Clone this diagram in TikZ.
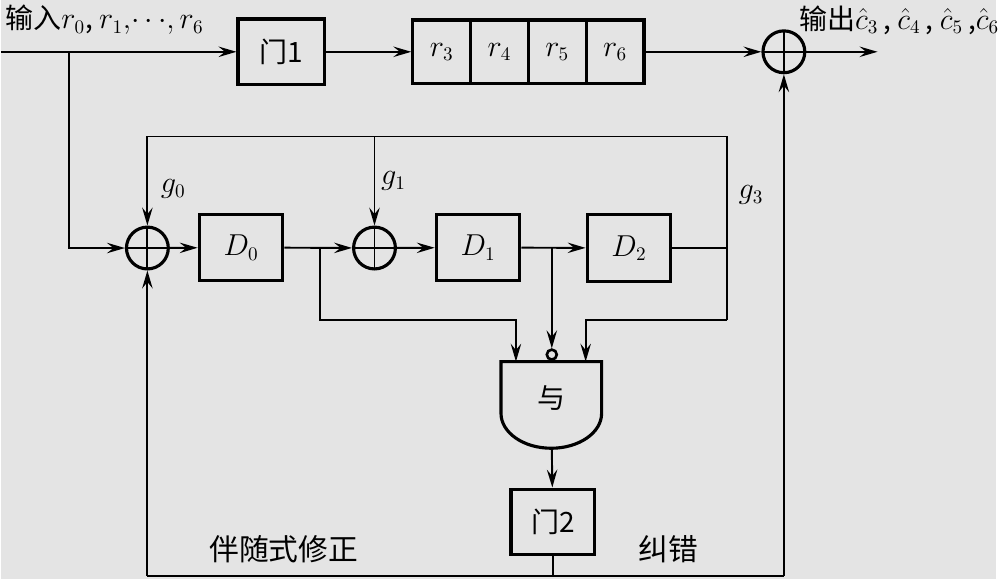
\documentclass[tikz,border=0pt]{standalone}
\usepackage{fontspec}
\newfontfamily\cjk{Noto Sans CJK SC}
\usepackage{xcolor}
\usepackage{tikz}
\usetikzlibrary{arrows.meta}
\definecolor{bg}{HTML}{E4E4E4}

\begin{document}
\begin{tikzpicture}[x=0.02cm,y=-0.02cm,font=\fontsize{16}{19}\selectfont,
  box/.style={draw,line width=1.8pt,minimum width=1.68cm,minimum height=1.32cm,inner sep=0pt},
  cell/.style={draw,line width=1.8pt,minimum width=1.16cm,minimum height=1.28cm,inner sep=0pt},
  xor/.style={circle,draw,line width=1.8pt,minimum size=0.84cm,inner sep=0pt,
    path picture={\draw[line width=1.1pt] (path picture bounding box.north) -- (path picture bounding box.south)
      (path picture bounding box.west) -- (path picture bounding box.east);}},
  wire/.style={line width=1.1pt},
  arr/.style={wire,-{Stealth[length=3.6mm,width=2.1mm,inset=1.3mm]}}]
\fill[bg] (0,0) rectangle (999,581);
% upper row
\node[box,minimum width=1.74cm] (gate1) at (281.5,52) {\cjk 门1};
\foreach \i/\x in {3/442.5,4/500.5,5/558.5,6/616.5}
  \node[cell] (r\i) at (\x,52) {$r_\i$};
\node[xor] (xorOut) at (786,52) {};
\node[anchor=west,inner sep=0pt] (inlab) at (4,20) {\cjk 输入$r_0$, $r_1,\!\cdots\!,r_6$};
\node[anchor=west,inner sep=0pt] (outlab) at (801,20)
  {\cjk 输出$\hat{c}_3\,$, $\hat{c}_4\,$, $\hat{c}_5\,$,$\hat{c}_6$};
\coordinate (in) at (0,52);
\coordinate (br0) at (68,52);
\coordinate (out) at (880,52);
% syndrome register
\node[xor] (xor0) at (147,249) {};
\node[box,minimum height=1.34cm] (D0) at (241,248.5) {$D_0$};
\node[xor] (xor1) at (375,249) {};
\node[box,minimum height=1.34cm] (D1) at (479,248.5) {$D_1$};
\node[box,minimum height=1.34cm] (D2) at (630.5,249) {$D_2$};
\coordinate (fbL) at (147,137);
\coordinate (fbR) at (729,137);
\coordinate (fbRb) at (729,321);
\coordinate (t0) at (320,249);
\coordinate (t1) at (553,249);
\node (g0) at (173,190) {$g_0$};
\node (g1) at (394,182) {$g_1$};
\node (g3) at (753,196) {$g_3$};
% and gate
\draw[line width=1.8pt] (502,363) -- (603,363) -- (603,415)
  arc[start angle=0,end angle=180,x radius=50.5,y radius=35] -- cycle;
\node (andg) at (553,400) {\cjk 与};
\node[circle,draw,line width=1.5pt,minimum size=0.2cm,inner sep=0pt] (neg) at (553,356) {};
\coordinate (inA) at (517,363);
\coordinate (inC) at (587,363);
\coordinate (andout) at (553,450);
\node[box] (gate2) at (554,524) {\cjk 门2};
\coordinate (bl) at (147,578);
\coordinate (br) at (786,578);
\node[font=\fontsize{17}{20}\selectfont] (synd) at (284,551) {\cjk 伴随式修正};
\node[font=\fontsize{17}{20}\selectfont] (corr) at (670,551) {\cjk 纠错};
% connectors
\draw[arr] (in) -- (gate1);
\draw[arr] (gate1) -- (r3);
\draw[arr] (r6) -- (xorOut);
\draw[arr] (xorOut) -- (out);
\draw[arr] (br0) |- (xor0);
\draw[arr] (xor0) -- (D0);
\draw[arr] (D0) -- (xor1);
\draw[arr] (xor1) -- (D1);
\draw[arr] (D1) -- (D2);
\draw[wire] (D2) -- (D2 -| fbR);
\draw[wire] (fbL) -- (fbR) -- (fbRb);
\draw[arr] (fbL) -- (xor0);
\draw[arr] (fbL -| xor1) -- (xor1);
\draw[arr] (fbRb) -| (inC);
\draw[arr] (t0) |- (fbRb -| inA) -- (inA);
\draw[arr] (t1) -- (neg);
\draw[arr] (andout) -- (gate2);
\draw[wire] (gate2) -- (gate2 |- bl);
\draw[wire] (bl) -- (br);
\draw[arr] (bl) -- (xor0);
\draw[arr] (br) -- (xorOut);
\end{tikzpicture}
\end{document}
